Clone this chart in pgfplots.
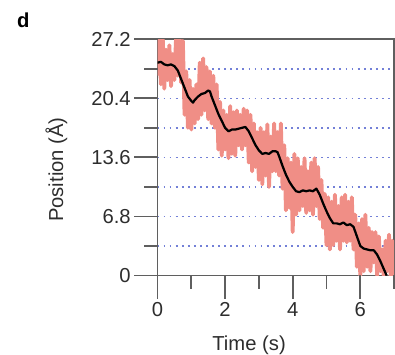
\documentclass[border=0pt]{standalone}
\usepackage{fontspec}
\setmainfont{Liberation Sans}
\usepackage{pgfplots}
\pgfplotsset{compat=1.18}
\definecolor{rawpink}{RGB}{240,142,134}
\definecolor{gridblue}{RGB}{115,128,215}
\definecolor{axgray}{RGB}{95,95,95}
\definecolor{txtgray}{RGB}{45,45,45}
\begin{document}
\begin{tikzpicture}
\begin{axis}[
 width=234pt, height=233.7pt, scale only axis,
 xmin=0, xmax=7, ymin=0, ymax=27.2,
 xtick={0,2,4,6}, minor xtick={1,3,5,7},
 xticklabels={0,2,4,6},
 ytick={0,6.8,13.6,20.4,27.2}, minor ytick={3.4,10.2,17,23.8},
 yticklabels={0,6.8,13.6,20.4,27.2},
 tick align=outside, xtick pos=bottom, ytick pos=left,
 major tick length=23pt, minor tick length=13pt,
 axis line style={axgray, line width=1.8pt},
 tick style={axgray, line width=1.8pt},
 ymajorgrids, yminorgrids,
 grid style={gridblue, line width=1.5pt, dash pattern=on 1.8pt off 4.2pt},
 font=\fontsize{20}{24}\selectfont,
 every tick label/.append style={text=txtgray},
 xlabel={Time (s)}, ylabel={Position (Å)},
 xlabel style={at={(axis description cs:0.387,0)}, anchor=north, inner sep=0pt, yshift=-59.5pt, text=txtgray},
 ylabel style={at={(axis description cs:0,0.448)}, anchor=south, inner sep=0pt, yshift=89pt, text=txtgray},
 title={\rule{0pt}{27.3pt}\hspace*{17pt}d},
 every axis title/.style={at={(axis description cs:-0.6667,1.16688)}, anchor=north west, inner sep=0pt, font=\fontsize{20}{24}\selectfont\bfseries, text=black},
 after end axis/.code={
  \foreach \xx in {0,2,4,6} {\draw[axgray, line width=1.8pt] (axis cs:\xx,0) -- ++(0pt,-23pt);}
  \foreach \xx in {1,3,5,7} {\draw[axgray, line width=1.8pt] (axis cs:\xx,0) -- ++(0pt,-13pt);}
  \foreach \yy in {0,6.8,13.6,20.4,27.2} {\draw[axgray, line width=1.8pt] (axis cs:0,\yy) -- ++(-23pt,0pt);}
  \foreach \yy in {3.4,10.2,17,23.8} {\draw[axgray, line width=1.8pt] (axis cs:0,\yy) -- ++(-13pt,0pt);}
 },
]
\addplot[rawpink, line width=3.8pt, line join=round] coordinates {
(0.00,23.0) (0.05,27.5) (0.10,22.0) (0.15,28.0) (0.20,21.5) (0.25,26.0)
(0.30,22.5) (0.35,26.5) (0.40,21.8) (0.45,25.5) (0.50,22.5) (0.55,27.5)
(0.60,23.0) (0.65,28.0) (0.70,22.2) (0.75,27.0) (0.80,18.5) (0.85,23.5)
(0.90,17.0) (0.95,22.5) (1.00,16.8) (1.05,21.5) (1.10,17.5) (1.15,22.0)
(1.20,18.0) (1.25,24.5) (1.30,18.5) (1.35,25.0) (1.40,19.0) (1.45,24.0)
(1.50,18.0) (1.55,23.5) (1.60,17.5) (1.65,23.0) (1.70,17.0) (1.75,22.0)
(1.80,14.5) (1.85,20.0) (1.90,13.8) (1.95,19.0) (2.00,14.5) (2.05,18.5)
(2.10,13.5) (2.15,19.5) (2.20,14.0) (2.25,18.8) (2.30,13.8) (2.35,19.0)
(2.40,15.0) (2.45,18.5) (2.50,14.5) (2.55,19.2) (2.60,15.0) (2.65,19.0)
(2.70,13.0) (2.75,18.5) (2.80,12.0) (2.85,17.5) (2.90,12.5) (2.95,16.5)
(3.00,11.0) (3.05,17.0) (3.10,10.5) (3.15,16.5) (3.20,11.5) (3.25,17.4)
(3.30,10.2) (3.35,16.0) (3.40,12.0) (3.45,17.5) (3.50,12.0) (3.55,16.5)
(3.60,11.5) (3.65,17.5) (3.70,10.0) (3.75,15.0) (3.80,7.5) (3.85,13.5)
(3.90,7.8) (3.95,13.0) (4.00,5.0) (4.05,14.0) (4.10,7.0) (4.15,13.5)
(4.20,7.5) (4.25,12.5) (4.30,8.0) (4.35,13.5) (4.40,7.2) (4.45,12.0)
(4.50,7.5) (4.55,13.0) (4.60,7.0) (4.65,13.5) (4.70,8.0) (4.75,12.5)
(4.80,6.5) (4.85,11.0) (4.90,5.5) (4.95,9.4) (5.00,3.5) (5.05,9.0)
(5.10,3.0) (5.15,8.5) (5.20,3.5) (5.25,9.3) (5.30,4.0) (5.35,8.0)
(5.40,3.0) (5.45,9.0) (5.50,4.0) (5.55,9.3) (5.60,3.8) (5.65,8.5)
(5.70,4.0) (5.75,9.0) (5.80,3.0) (5.85,7.0) (5.90,1.0) (5.95,6.0)
(6.00,0.0) (6.05,6.5) (6.10,0.5) (6.15,7.0) (6.20,1.0) (6.25,5.5)
(6.30,0.5) (6.35,5.0) (6.40,1.5) (6.45,5.0) (6.50,0.0) (6.55,4.5)
(6.60,0.5) (6.65,3.0) (6.70,-0.5) (6.75,4.0) (6.80,0.5) (6.85,4.7)
(6.90,-0.5) (6.95,4.0) (7.00,0.0)
};
\addplot[black, line width=2.2pt, line join=round] coordinates {
(0.00,24.5) (0.10,24.6) (0.20,24.3) (0.30,24.2) (0.40,24.3) (0.50,24.1)
(0.60,23.6) (0.70,22.6) (0.80,21.6) (0.90,20.6) (1.00,20.1) (1.05,19.9)
(1.10,20.2) (1.20,20.6) (1.30,20.9) (1.40,21.0) (1.50,21.3) (1.55,21.2)
(1.60,20.6) (1.70,19.6) (1.80,18.6) (1.90,17.8) (2.00,17.0) (2.10,16.6)
(2.20,16.8) (2.30,16.8) (2.40,16.9) (2.50,17.0) (2.60,17.1) (2.70,16.6)
(2.80,15.8) (2.90,15.0) (3.00,14.4) (3.10,14.0) (3.20,14.1) (3.30,14.0)
(3.40,14.3) (3.50,14.3) (3.55,14.2) (3.60,13.7) (3.70,12.6) (3.80,11.6)
(3.90,10.8) (4.00,10.2) (4.10,9.7) (4.20,9.6) (4.30,9.8) (4.40,9.7)
(4.50,9.8) (4.60,9.7) (4.70,10.0) (4.80,9.3) (4.90,8.3) (5.00,7.4)
(5.10,6.6) (5.20,6.0) (5.30,6.0) (5.40,5.9) (5.50,6.1) (5.60,5.8)
(5.70,5.9) (5.80,5.6) (5.90,4.5) (6.00,3.4) (6.10,3.1) (6.20,3.0)
(6.30,2.9) (6.40,2.9) (6.50,2.4) (6.60,1.6) (6.70,0.7) (6.78,0.0)
};
\end{axis}
\end{tikzpicture}
\end{document}
